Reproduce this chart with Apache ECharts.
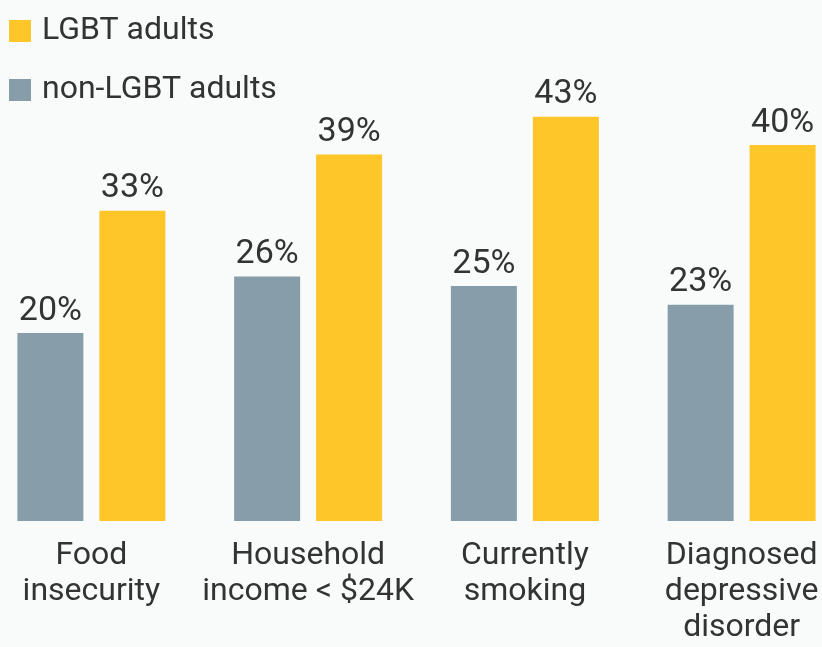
<!DOCTYPE html>
<html>
<head>
<meta charset="utf-8">
<script src="https://cdn.jsdelivr.net/npm/echarts@6/dist/echarts.min.js"></script>
<style>
html,body{margin:0;padding:0;background:#f9fbfb;overflow:hidden;width:822px;height:647px;}
#chart{position:absolute;left:-17px;top:0;width:867px;height:647px;}
</style>
</head>
<body>
<div id="chart"></div>
<script>
const categories = ['Food\ninsecurity', 'Household\nincome < $24K', 'Currently\nsmoking', 'Diagnosed\ndepressive\ndisorder'];
const nonLgbtValues = [20, 26, 25, 23];
const lgbtValues = [33, 39, 43, 40];
const seriesNames = ['non-LGBT adults', 'LGBT adults'];

const chart = echarts.init(document.getElementById('chart'));
const labelStyle = {
  show: true,
  position: 'top',
  distance: 5,
  formatter: '{c}%',
  fontFamily: 'Roboto',
  fontSize: 34,
  color: '#333333'
};
chart.setOption({
  backgroundColor: '#f9fbfb',
  animation: false,
  textStyle: { fontFamily: 'Roboto' },
  legend: {
    data: [seriesNames[1], seriesNames[0]],
    orient: 'vertical',
    left: 26,
    top: 15,
    padding: 0,
    itemWidth: 22,
    itemHeight: 22,
    itemGap: 27,
    icon: 'rect',
    textStyle: { fontSize: 32, color: '#333333', fontFamily: 'Roboto', padding: [0, 0, 0, 6] }
  },
  grid: { left: 0, right: 0, top: 51, bottom: 126 },
  xAxis: {
    type: 'category',
    data: categories,
    axisLine: { show: false },
    axisTick: { show: false },
    axisLabel: {
      margin: 17,
      fontSize: 32,
      lineHeight: 36,
      color: '#333333',
      fontFamily: 'Roboto',
      interval: 0
    }
  },
  yAxis: {
    type: 'value',
    min: 0,
    max: 50,
    show: false,
    splitLine: { show: false }
  },
  series: [
    {
      name: seriesNames[0],
      type: 'bar',
      data: nonLgbtValues,
      barWidth: 66,
      barGap: '24.2%',
      itemStyle: { color: '#879eaa' },
      label: labelStyle
    },
    {
      name: seriesNames[1],
      type: 'bar',
      data: lgbtValues,
      barWidth: 66,
      barGap: '24.2%',
      itemStyle: { color: '#ffc629' },
      label: labelStyle
    }
  ]
});
</script>
</body>
</html>
